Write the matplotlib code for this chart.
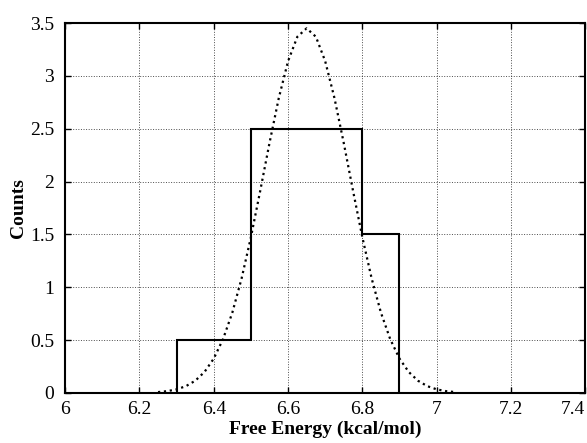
import numpy as np
import matplotlib.pyplot as plt

# histogram of free energies
bin_edges = [6.3, 6.5, 6.8, 6.9]
counts = [0.5, 2.5, 1.5]

# fitted normal curve
curve_x = [6.25, 6.275, 6.3, 6.325, 6.35, 6.375, 6.4, 6.425, 6.45, 6.475,
           6.5, 6.525, 6.55, 6.575, 6.6, 6.625, 6.65, 6.675, 6.7, 6.725,
           6.75, 6.775, 6.8, 6.825, 6.85, 6.875, 6.9, 6.925, 6.95, 6.975,
           7.0, 7.025, 7.05]
curve_y = [0.008, 0.017, 0.034, 0.064, 0.115, 0.198, 0.325, 0.509, 0.76, 1.084,
           1.473, 1.911, 2.364, 2.789, 3.139, 3.37, 3.45, 3.37, 3.139, 2.789,
           2.364, 1.911, 1.473, 1.084, 0.76, 0.509, 0.325, 0.198, 0.115, 0.064,
           0.034, 0.017, 0.008]

xticks = [6, 6.2, 6.4, 6.6, 6.8, 7, 7.2, 7.4]
xtick_labels = ['6', '6.2', '6.4', '6.6', '6.8', '7', '7.2', '7.4']
yticks = [0, 0.5, 1, 1.5, 2, 2.5, 3, 3.5]
ytick_labels = ['0', '0.5', '1', '1.5', '2', '2.5', '3', '3.5']

plt.rcParams['font.family'] = ['Liberation Serif', 'DejaVu Serif']

fig = plt.figure(figsize=(5.87, 4.43), dpi=100)
ax = fig.add_axes([0.111, 0.113, 0.886, 0.835])

ax.stairs(counts, bin_edges, color='black', linewidth=1.5, zorder=3)
ax.plot(curve_x, curve_y, color='black', linestyle=':', linewidth=1.6, zorder=4)

ax.set_xlim(6, 7.4)
ax.set_ylim(0, 3.5)
ax.set_xticks(xticks)
ax.set_xticklabels(xtick_labels)
ax.set_yticks(yticks)
ax.set_yticklabels(ytick_labels)
ax.tick_params(direction='in', top=True, right=True, labelsize=14, length=4,
               width=1)
ax.tick_params(axis='x', pad=6)
ax.tick_params(axis='y', pad=8)
# last x label pulled inside like in the original
ax.get_xticklabels()[-1].set_horizontalalignment('right')
ax.grid(True, linestyle=':', color='black', linewidth=0.7, alpha=0.7)
for s in ax.spines.values():
    s.set_linewidth(1.5)

ax.set_xlabel('Free Energy (kcal/mol)', fontsize=14, fontweight='bold', labelpad=2)
ax.set_ylabel('Counts', fontsize=14, fontweight='bold', labelpad=2)

fig.savefig('out.png', dpi=100)
